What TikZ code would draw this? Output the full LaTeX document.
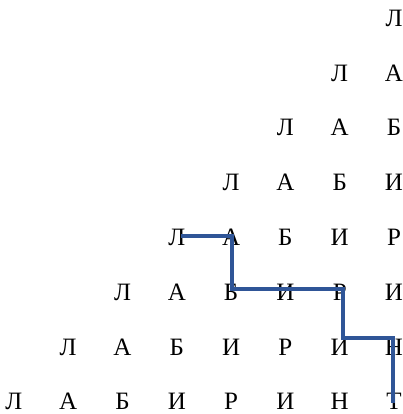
\documentclass[tikz,border=0pt]{standalone}
\usepackage{fontspec}
\setmainfont{Liberation Serif}
\definecolor{pathblue}{HTML}{2F5597}
\begin{document}
\begin{tikzpicture}[x=1pt,y=-1pt,
  letter/.style={inner sep=0pt, anchor=base, font=\fontsize{25}{25}\selectfont},
  route/.style={draw=pathblue, line width=3.8pt}]
\useasboundingbox (0,0) rectangle (403,414);
% word triangle: row r holds the first r letters, right-aligned;
% letters sit on a common baseline about half a cap height below the row centre
\foreach \r in {1,...,8}{
  \foreach \ch [count=\c] in {Л,А,Б,И,Р,И,Н,Т}{
    \ifnum\c>\r\relax\else
      \pgfmathsetmacro{\xx}{394-(\r-\c)*54.3}
      \pgfmathsetmacro{\yy}{26.3+(\r-1)*54.8}
      \node[letter] (L\r-\c) at (\xx,\yy) {\ch};
    \fi
  }
}
% the route through the triangle
\coordinate (p0) at (181,236);
\coordinate (p1) at (232,236);
\coordinate (p2) at (232,289);
\coordinate (p3) at (343,289);
\coordinate (p4) at (343,338);
\coordinate (p5) at (393,338);
\coordinate (p6) at (393,403);
\draw[route] (p0) -- (p1) -- (p2) -- (p3) -- (p4) -- (p5) -- (p6);
\end{tikzpicture}
\end{document}
